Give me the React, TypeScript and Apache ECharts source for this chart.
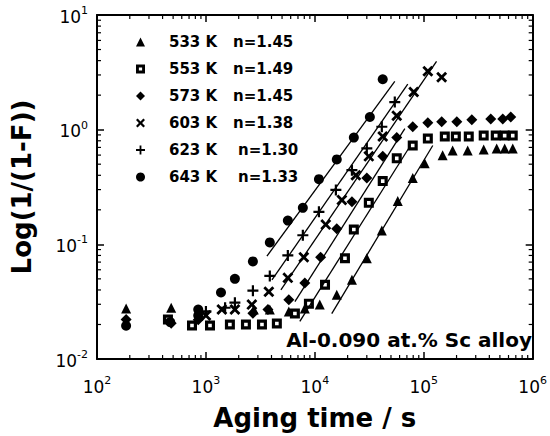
import React, { useEffect, useRef } from "react";
import * as echarts from "echarts";

// ---- Data ----
const seriesNames = ["533 K", "553 K", "573 K", "603 K", "623 K", "643 K"];
const nValues = ["1.45", "1.49", "1.45", "1.38", "1.30", "1.33"];

const t533 = [185, 480, 2750, 3860, 5770, 8090, 11100, 15900, 21900, 30000, 41200, 57700, 79200, 102000, 149000, 184000, 253000, 355000, 467000, 553000, 656000];
const v533 = [0.0275, 0.028, 0.027, 0.027, 0.026, 0.0275, 0.0298, 0.0363, 0.049, 0.0757, 0.132, 0.239, 0.378, 0.509, 0.597, 0.659, 0.659, 0.672, 0.686, 0.686, 0.686];

const t553 = [448, 745, 1090, 1660, 2330, 3270, 4480, 6560, 8820, 12400, 18900, 22800, 31300, 42000, 56500, 79200, 109000, 156000, 197000, 259000, 355000, 458000, 553000, 656000];
const v553 = [0.0221, 0.0196, 0.0196, 0.02, 0.02, 0.02, 0.0204, 0.0249, 0.0304, 0.0444, 0.0757, 0.1346, 0.23, 0.356, 0.562, 0.728, 0.836, 0.871, 0.871, 0.871, 0.888, 0.888, 0.888, 0.888];

const t573 = [185, 480, 850, 2700, 3710, 5770, 8090, 11300, 15900, 21900, 30000, 42000, 56500, 79200, 109000, 146000, 201000, 276000, 412000, 531000, 629000];
const v573 = [0.0221, 0.0205, 0.022, 0.025, 0.027, 0.0329, 0.0461, 0.0773, 0.137, 0.235, 0.378, 0.585, 0.853, 1.06, 1.15, 1.17, 1.17, 1.22, 1.24, 1.24, 1.29];

const t603 = [1000, 1400, 1845, 2640, 3780, 5650, 7920, 12600, 17700, 23800, 31300, 42000, 56500, 80900, 109000, 146000];
const v603 = [0.024, 0.027, 0.027, 0.0298, 0.0386, 0.051, 0.0773, 0.1486, 0.244, 0.401, 0.585, 0.871, 1.32, 2.13, 3.23, 2.86];

const t623 = [1000, 1500, 1845, 2700, 3860, 5650, 7760, 10900, 15600, 21900, 30000, 41200, 54200];
const v623 = [0.026, 0.028, 0.031, 0.0394, 0.053, 0.08, 0.12, 0.192, 0.298, 0.443, 0.686, 1.06, 1.74];

const t643 = [185, 470, 850, 850, 1375, 1845, 2700, 3860, 5650, 7760, 10900, 15900, 22800, 32000, 42000];
const v643 = [0.0195, 0.021, 0.027, 0.024, 0.038, 0.05, 0.071, 0.104, 0.161, 0.208, 0.37, 0.55, 0.853, 1.29, 2.75];

// fitted JMAK lines: [start time, start value, end time, end value]
const fit533 = [14300, 0.0249, 121000, 0.728];
const fit553 = [7280, 0.0213, 74500, 0.713];
const fit573 = [6560, 0.0316, 67000, 1.02];
const fit603 = [4880, 0.0401, 131000, 3.94];
const fit623 = [4040, 0.049, 71300, 2.49];
const fit643 = [3630, 0.0788, 54200, 2.64];

const xMin = 100, xMax = 1e6, yMin = 0.01, yMax = 10;
const annotation = "Al-0.090 at.% Sc alloy";

// ---- Styling ----
const FONT = "DejaVu Sans";
const X_PATH = "path://M0,1.8L1.8,0L5,3.2L8.2,0L10,1.8L6.8,5L10,8.2L8.2,10L5,6.8L1.8,10L0,8.2L3.2,5Z";
const PLUS_PATH = "path://M4,0H6V4H10V6H6V10H4V6H0V4H4Z";
const SQUARE_PATH = "path://M0,0H10V10H0Z M3.2,3.2V6.8H6.8V3.2Z";

const markerStyles: any[] = [
  { symbol: "triangle", symbolSize: 10, itemStyle: { color: "#000", opacity: 1 } },
  { symbol: SQUARE_PATH, symbolSize: 10, itemStyle: { color: "#000", opacity: 1 } },
  { symbol: "diamond", symbolSize: 11, itemStyle: { color: "#000", opacity: 1 } },
  { symbol: X_PATH, symbolSize: 11, itemStyle: { color: "#000", opacity: 1 } },
  { symbol: PLUS_PATH, symbolSize: 11, itemStyle: { color: "#000", opacity: 1 } },
  { symbol: "circle", symbolSize: 10, itemStyle: { color: "#000", opacity: 1 } },
];

const pairs = (t: number[], v: number[]) => t.map((x, i) => [x, v[i]]);
const allT = [t533, t553, t573, t603, t623, t643];
const allV = [v533, v553, v573, v603, v623, v643];
const fits = [fit533, fit553, fit573, fit603, fit623, fit643];

const minorX: number[] = [];
for (let e = 2; e < 6; e++) for (let k = 2; k <= 9; k++) minorX.push(k * Math.pow(10, e));
const minorY: number[] = [];
for (let e = -2; e < 1; e++) for (let k = 2; k <= 9; k++) minorY.push(k * Math.pow(10, e));

const labelFmt = (v: number) => {
  const e = Math.round(Math.log10(v));
  return `{m|10}{s|${e}}`;
};
const labelRich = {
  m: { fontSize: 17, fontFamily: FONT, color: "#000", lineHeight: 20, verticalAlign: "bottom" },
  s: { fontSize: 11, fontFamily: FONT, color: "#000", lineHeight: 12, verticalAlign: "top" },
};

function buildOption(): any {
  const tickStyle = { color: "#000", width: 1.5 };
  const axisBase = (extra: any) => ({
    type: "log",
    logBase: 10,
    axisLine: { show: true, onZero: false, lineStyle: { color: "#000", width: 2 } },
    axisTick: { show: true, inside: true, length: 7, lineStyle: tickStyle },
    splitLine: { show: false },
    ...extra,
  });

  const series: any[] = [];
  fits.forEach((f, i) => {
    series.push({
      name: "fit " + seriesNames[i],
      type: "line",
      data: [[f[0], f[1]], [f[2], f[3]]],
      symbol: "none",
      silent: true,
      lineStyle: { color: "#000", width: 1.3 },
      z: 3,
    });
  });
  seriesNames.forEach((name, i) => {
    series.push({
      name,
      type: "scatter",
      data: pairs(allT[i], allV[i]),
      ...markerStyles[i],
      z: 4,
    });
  });
  series.push({
    type: "custom",
    silent: true,
    clip: false,
    z: 5,
    data: minorX.map((v) => [v, 1]),
    renderItem: (params: any, api: any) => {
      const x = api.coord([api.value(0), api.value(1)])[0];
      const cs = params.coordSys;
      const st = { stroke: "#000", lineWidth: 1.2 };
      return {
        type: "group",
        children: [
          { type: "line", shape: { x1: x, y1: cs.y + cs.height, x2: x, y2: cs.y + cs.height - 4 }, style: st },
          { type: "line", shape: { x1: x, y1: cs.y, x2: x, y2: cs.y + 4 }, style: st },
        ],
      };
    },
  });
  series.push({
    type: "custom",
    silent: true,
    clip: false,
    z: 5,
    data: minorY.map((v) => [1000, v]),
    renderItem: (params: any, api: any) => {
      const y = api.coord([api.value(0), api.value(1)])[1];
      const cs = params.coordSys;
      const st = { stroke: "#000", lineWidth: 1.2 };
      return {
        type: "group",
        children: [
          { type: "line", shape: { x1: cs.x, y1: y, x2: cs.x + 4, y2: y }, style: st },
          { type: "line", shape: { x1: cs.x + cs.width, y1: y, x2: cs.x + cs.width - 4, y2: y }, style: st },
        ],
      };
    },
  });

  const legendData = seriesNames.map((name) => ({ name, itemStyle: { opacity: 1 } }));

  const txt = { fontFamily: FONT, fontWeight: "bold", fontSize: 15, lineHeight: 18, color: "#000" };

  return {
    animation: false,
    backgroundColor: "#fff",
    grid: { left: 97, right: 17, top: 15, bottom: 73 },
    legend: {
      data: legendData,
      orient: "vertical",
      left: 136,
      top: 33,
      padding: 0,
      itemWidth: 9,
      itemHeight: 9,
      itemGap: 9,
      symbolKeepAspect: true,
      selectedMode: false,
      formatter: (name: string) => {
        const i = seriesNames.indexOf(name);
        const a = i >= 4 ? "a2" : "a";
        return `{p|\u00a0}{${a}|${name}}{b|n=${nValues[i]}}`;
      },
      textStyle: {
        ...txt,
        rich: {
          p: { ...txt, width: 19 },
          a: { ...txt, width: 64 },
          a2: { ...txt, width: 69 },
          b: { ...txt },
        },
      },
    },
    xAxis: [
      axisBase({
        position: "bottom",
        min: xMin,
        max: xMax,
        name: "Aging time / s",
        nameLocation: "middle",
        nameGap: 46,
        nameTextStyle: { fontFamily: FONT, fontWeight: "bold", fontSize: 26, color: "#000" },
        axisLabel: { show: true, margin: 16, formatter: labelFmt, rich: labelRich, hideOverlap: false },
      }),
      axisBase({ position: "top", min: xMin, max: xMax, axisLabel: { show: false } }),
    ],
    yAxis: [
      axisBase({
        position: "left",
        min: yMin,
        max: yMax,
        name: "Log(1/(1-F))",
        nameLocation: "middle",
        nameGap: 62,
        nameTextStyle: { fontFamily: FONT, fontWeight: "bold", fontSize: 26, color: "#000" },
        axisLabel: { show: true, margin: 9, formatter: labelFmt, rich: labelRich, hideOverlap: false },
      }),
      axisBase({ position: "right", min: yMin, max: yMax, axisLabel: { show: false } }),
    ],
    graphic: [
      {
        type: "text",
        right: 18,
        top: 330,
        style: { text: annotation, font: `bold 20px "${FONT}"`, fill: "#000" },
        z: 10,
      },
    ],
    series,
  };
}

export default function App() {
  const ref = useRef<HTMLDivElement>(null);
  useEffect(() => {
    const chart = echarts.init(ref.current!, null, { renderer: "svg" });
    chart.setOption(buildOption());
    return () => chart.dispose();
  }, []);
  return (
    <div
      ref={ref}
      style={{ position: "absolute", left: 0, top: 0, width: 550, height: 436, background: "#fff" }}
    />
  );
}
